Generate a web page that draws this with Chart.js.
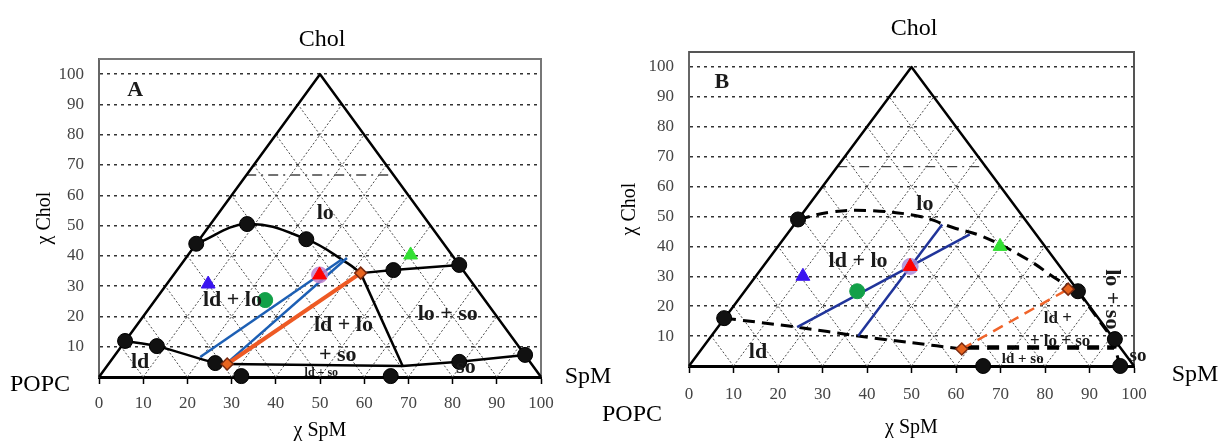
<!DOCTYPE html>
<html><head><meta charset="utf-8">
<script src="https://cdn.jsdelivr.net/npm/chart.js@4"></script>
<style>
body{margin:0;background:#fff;}
#wrap{position:relative;width:1221px;height:443px;overflow:hidden;background:#fff;font-family:'Liberation Serif',serif;}
canvas{position:absolute;top:0;}
.lbl{position:absolute;font-size:24px;line-height:24px;color:#000;white-space:nowrap;transform:translate(-50%,-50%);}
</style></head><body>
<div id="wrap">
<canvas id="cA" width="600" height="443" style="left:0px"></canvas>
<canvas id="cB" width="621" height="443" style="left:600px"></canvas>
<div class="lbl" style="left:322px;top:38px">Chol</div>
<div class="lbl" style="left:40px;top:383px">POPC</div>
<div class="lbl" style="left:588px;top:375px">SpM</div>
<div class="lbl" style="left:914px;top:27px">Chol</div>
<div class="lbl" style="left:632px;top:413px">POPC</div>
<div class="lbl" style="left:1195px;top:373px">SpM</div>
</div>
<script>
// ---------- tick labels / grid levels ----------
const xTicks = [0,10,20,30,40,50,60,70,80,90,100];
const yTicks = [10,20,30,40,50,60,70,80,90,100];
const triLevels = [10,20,30,40,50,60,70,80,90];
const triangle = [[0,0],[50,100],[100,0]];
const dashLevel = [[33.3,66.7],[66.7,66.7]];

// ---------- Panel A data (x = χSpM axis, y = χChol) ----------
const A_circles = [[5.9,11.9],[13.1,10.2],[22,44],[33.5,50.5],[46.9,45.5],[26.3,4.6],[32.2,0.3],[66.6,35.3],[81.5,37],[81.5,5.0],[96.4,7.3],[66,0.3]];
const A_boundaryTop = [[22,44],[33.5,50.5],[46.9,45.5],[56.2,37.6],[59.2,34.3]];
const A_boundaryLeft = [[5.9,11.9],[13.1,10.2],[26.3,4.6],[29,4.3]];
const A_loSoTop = [[59.2,34.3],[66.6,35.3],[81.5,37]];
const A_threePhase = [[59.2,34.3],[68.7,3.6]];
const A_bottom = [[29,4.3],[68.7,3.6],[81.5,5.0],[96.4,7.3]];
const A_tie1 = [[22.9,6.6],[55,38.9]];
const A_tie2 = [[29.2,4.9],[56.1,39.3]];
const A_orangeTie = [[29,4.3],[59.2,34.3]];
const A_diamonds = [[29,4.3],[59.2,34.3]];
const A_blueTri = [[24.7,30.7]];
const A_greenDot = [[37.6,25.4]];
const A_redTri = [[49.9,33.7]];
const A_greenTri = [[70.5,40.3]];

// ---------- Panel B data ----------
const B_circles = [[7.9,16],[24.5,49],[87.4,25],[95.7,9],[96.9,0],[66.1,0]];
const B_boundaryTop = [[24.5,49],[32,51.5],[40,52],[51.9,50],[59.3,46.3],[66,43.3],[76,35.7],[82.7,29],[87.4,25]];
const B_boundaryLow = [[7.9,16],[24.3,13],[38,10],[50,7.8],[61.3,5.7]];
const B_threePhaseTop = [[62.5,6.2],[95.5,6.2]];
const B_rightDash = [[87.4,25],[95.2,9],[96.5,2]];
const B_tie1 = [[24.3,13],[63.1,44]];
const B_tie2 = [[38,10],[56.9,47.3]];
const B_orangeTie = [[61.3,5.7],[85.2,25.7]];
const B_diamonds = [[61.3,5.7],[85.2,25.7]];
const B_blueTri = [[25.6,30]];
const B_greenDot = [[37.8,25]];
const B_redTri = [[49.7,33.3]];
const B_greenTri = [[69.9,40]];

// ---------- region labels ----------
const A_labels = [
  {t:'A', x:8.2, y:94.7, s:22},
  {t:'lo', x:51.2, y:54, s:22},
  {t:'ld + lo', x:30.2, y:25.4, s:22},
  {t:'ld + lo', x:55.3, y:17.2, s:22},
  {t:'+ so', x:54, y:7.3, s:22},
  {t:'ld + so', x:50.3, y:1.5, s:12},
  {t:'lo + so', x:78.9, y:20.8, s:22},
  {t:'so', x:83, y:3.3, s:22},
  {t:'ld', x:9.3, y:5, s:22}
];
const B_labels = [
  {t:'B', x:7.4, y:94.7, s:22},
  {t:'lo', x:53, y:54, s:22},
  {t:'ld + lo', x:38, y:35, s:22},
  {t:'ld', x:15.5, y:4.7, s:22},
  {t:'ld +', x:82.9, y:15.7, s:17},
  {t:'+ lo + so', x:83.4, y:8.3, s:17},
  {t:'ld + so', x:75, y:2.3, s:15},
  {t:'so', x:100.9, y:3.3, s:19},
  {t:'lo + so', x:95, y:22.3, s:22, rot:true}
];

const F = "'Liberation Serif', serif";
const xy = a => a.map(p => ({x:p[0], y:p[1]}));

function lineDS(pts, color, width, dash, tension, order) {
  return {data: xy(pts), showLine:true, borderColor:color, borderWidth:width, borderDash:dash||[],
    tension:tension||0, pointRadius:0, pointHoverRadius:0, fill:false, clip:false, order:order,
    borderCapStyle:'butt', borderJoinStyle:'round'};
}
function ptsDS(pts, style, radius, fill, stroke, bw, order) {
  return {data: xy(pts), showLine:false, pointStyle:style, pointRadius:radius, pointHoverRadius:radius,
    pointBackgroundColor:fill, pointBorderColor:stroke, pointBorderWidth:bw, clip:false, order:order};
}
function gridDatasets() {
  const ds = [];
  triLevels.forEach(L => {
    ds.push(lineDS([[L,0],[L/2,L]], '#4a4a4a', 1, [2,2], 0, 50));
    ds.push(lineDS([[L,0],[(L+100)/2,100-L]], '#4a4a4a', 1, [2,2], 0, 50));
  });
  ds.push(lineDS(dashLevel, '#444', 1.3, [10,5,2,5], 0, 49));
  ds.push(lineDS(triangle, '#000', 2.5, [], 0, 40));
  return ds;
}

const textPlugin = {
  id:'regionText',
  afterDatasetsDraw(chart, args, opts) {
    const {ctx, scales:{x, y}} = chart;
    ctx.save();
    ctx.fillStyle = '#1a1a1a';
    ctx.textAlign = 'center';
    ctx.textBaseline = 'middle';
    (opts.items || []).forEach(it => {
      const px = x.getPixelForValue(it.x), py = y.getPixelForValue(it.y);
      ctx.font = 'bold ' + it.s + 'px ' + F;
      if (it.rot) {
        ctx.save(); ctx.translate(px, py); ctx.rotate(Math.PI/2); ctx.fillText(it.t, 0, 0); ctx.restore();
      } else ctx.fillText(it.t, px, py);
    });
    ctx.restore();
  }
};
const framePlugin = {
  id:'frame',
  beforeDatasetsDraw(chart, args, opts) {
    const {ctx, chartArea:{left, top, right, bottom}} = chart;
    ctx.save();
    ctx.strokeStyle = opts.color || '#666';
    ctx.lineWidth = 2;
    ctx.beginPath();
    ctx.moveTo(left, top); ctx.lineTo(right, top); ctx.lineTo(right, bottom);
    ctx.stroke();
    ctx.restore();
  }
};

function makeScales(p) {
  return {
    x: {type:'linear', min:0, max:100,
      afterBuildTicks: a => { a.ticks = xTicks.map(v => ({value:v})); },
      afterFit: a => { a.height = p.xAxisH; },
      grid: {drawOnChartArea:false, drawTicks:true, tickLength:7, tickWidth:1.5, tickColor:'#000'},
      border: {display:true, color:'#000', width:3},
      ticks: {color:'#444', padding:p.xTickPad, font:{family:F, size:17}, maxRotation:0, autoSkip:false},
      title: {display:true, text:'χ SpM', color:'#000', font:{family:F, size:20}, padding:{top:0, bottom:p.xTitlePad}}
    },
    y: {type:'linear', min:0, max:105,
      afterBuildTicks: a => { a.ticks = yTicks.map(v => ({value:v})); },
      afterFit: a => { a.width = p.yAxisW; },
      grid: {drawTicks:false, color:'#333', lineWidth:1.5},
      border: {display:true, color:'#666', width:2, dash:[3,4]},
      ticks: {color:'#444', padding:15, font:{family:F, size:17}, autoSkip:false},
      title: {display:true, text:'χ Chol', color:'#000', font:{family:F, size:20}, padding:{top:p.yTitlePad, bottom:0}}
    }
  };
}

function baseOptions(p, labels, frameColor) {
  return {
    responsive:false, animation:false, events:[],
    layout:{padding:{left:0, top:p.top, right:p.right, bottom:0}},
    plugins:{legend:{display:false}, tooltip:{enabled:false},
      regionText:{items:labels}, frame:{color:frameColor}},
    scales: makeScales(p)
  };
}

// ---------- Panel A ----------
const dsA = gridDatasets().concat([
  lineDS(A_boundaryTop, '#000', 2.5, [], 0.4, 30),
  lineDS(A_boundaryLeft, '#000', 2.5, [], 0.3, 30),
  lineDS(A_loSoTop, '#000', 2.5, [], 0, 30),
  lineDS(A_threePhase, '#000', 2.5, [], 0, 30),
  lineDS(A_bottom, '#000', 2.5, [], 0, 30),
  lineDS(A_tie1, '#1c5fb4', 2.5, [], 0, 20),
  lineDS(A_tie2, '#1c5fb4', 2.5, [], 0, 20),
  lineDS(A_orangeTie, '#ee5a24', 4, [], 0, 19),
  ptsDS(A_circles, 'circle', 7.5, '#111', '#000', 1, 10),
  ptsDS(A_diamonds, 'rectRot', 6, '#e8641e', '#7a2a10', 1.5, 9),
  ptsDS(A_blueTri, 'triangle', 8, '#3a14f0', '#3a14f0', 1, 8),
  ptsDS(A_greenDot, 'circle', 7.5, '#12a048', '#12a048', 1, 8),
  ptsDS(A_redTri, 'circle', 8, 'rgba(190,130,205,0.85)', 'rgba(190,130,205,0.85)', 1, 8),
  ptsDS(A_redTri, 'triangle', 8, '#ff0000', '#ff0000', 1, 7),
  ptsDS(A_greenTri, 'triangle', 8, '#33e033', '#33e033', 1, 8)
]);
new Chart(document.getElementById('cA'), {
  type:'scatter',
  data:{datasets:dsA},
  options: baseOptions({top:59, right:59, xAxisH:66, yAxisW:99, xTickPad:9, xTitlePad:0, yTitlePad:33}, A_labels, '#777'),
  plugins:[textPlugin, framePlugin]
});

// ---------- Panel B ----------
const dsB = gridDatasets().concat([
  lineDS(B_boundaryTop, '#000', 3, [12,7], 0.4, 30),
  lineDS(B_boundaryLow, '#000', 3, [12,7], 0.3, 30),
  lineDS(B_threePhaseTop, '#000', 4.5, [12,8], 0, 30),
  lineDS(B_rightDash, '#000', 3, [12,7], 0, 30),
  lineDS(B_tie1, '#20349a', 2.5, [], 0, 20),
  lineDS(B_tie2, '#20349a', 2.5, [], 0, 20),
  lineDS(B_orangeTie, '#f0642a', 2.5, [11,7], 0, 19),
  ptsDS(B_circles, 'circle', 7.5, '#111', '#000', 1, 10),
  ptsDS(B_diamonds, 'rectRot', 6, '#e8641e', '#7a2a10', 1.5, 9),
  ptsDS(B_blueTri, 'triangle', 8, '#3a14f0', '#3a14f0', 1, 8),
  ptsDS(B_greenDot, 'circle', 7.5, '#12a048', '#12a048', 1, 8),
  ptsDS(B_redTri, 'circle', 8, 'rgba(170,140,215,0.85)', 'rgba(170,140,215,0.85)', 1, 8),
  ptsDS(B_redTri, 'triangle', 8, '#ff0000', '#ff0000', 1, 7),
  ptsDS(B_greenTri, 'triangle', 8, '#33e033', '#33e033', 1, 8)
]);
new Chart(document.getElementById('cB'), {
  type:'scatter',
  data:{datasets:dsB},
  options: baseOptions({top:52, right:87, xAxisH:77, yAxisW:89, xTickPad:11, xTitlePad:3, yTitlePad:18}, B_labels, '#555'),
  plugins:[textPlugin, framePlugin]
});
</script>
</body></html>
